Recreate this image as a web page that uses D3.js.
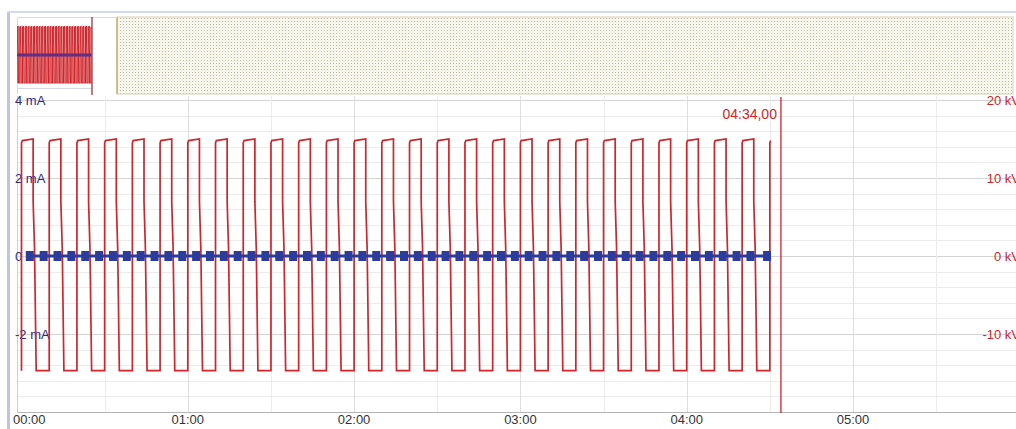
<!DOCTYPE html>
<html>
<head>
<meta charset="utf-8">
<script src="https://cdn.jsdelivr.net/npm/d3@7"></script>
<style>
  body { margin: 0; background: #fff; }
  svg { display: block; font-family: 'Liberation Sans', Arial, sans-serif; }
</style>
</head>
<body>
<div id="chart"></div>
<script>
// time axis (seconds) and labels
const xTicks = [0, 60, 120, 180, 240, 300]
const xTickLabels = ['00:00', '01:00', '02:00', '03:00', '04:00', '05:00']
// left axis (current) and right axis (voltage)
const mATicks = [4, 2, 0, -2]
const mALabels = ['4 mA', '2 mA', '0', '-2 mA']
const kVTicks = [20, 10, 0, -10]
const kVLabels = ['20 kV', '10 kV', '0 kV', '-10 kV']

// voltage: rising edge of every cycle (s), and the shape of one cycle
const riseTimes = [0, 10, 20, 30, 40, 50, 60, 70, 80, 90, 100, 110, 120, 130,
  140, 150, 160, 170, 180, 190, 200, 210, 220, 230, 240, 250, 260, 270]
const cycleOffsets = [0, 0, 0.3, 4.2, 4.2, 4.7, 5.3]
const cycleVoltage = [-14.7, 14.5, 14.8, 15.0, 7.0, 1.0, -14.7]
const endTime = 274

// current samples (s, mA)
const currentTimes = [3, 8, 13, 18, 23, 28, 33, 38, 43, 48, 53, 58, 63, 68, 73, 78,
  83, 88, 93, 98, 103, 108, 113, 118, 123, 128, 133, 138, 143, 148, 153, 158, 163,
  168, 173, 178, 183, 188, 193, 198, 203, 208, 213, 218, 223, 228, 233, 238, 243,
  248, 253, 258, 263, 269]
const currentValues = [0, 0, 0, 0, 0, 0, 0, 0, 0, 0, 0, 0, 0, 0, 0, 0, 0, 0, 0, 0,
  0, 0, 0, 0, 0, 0, 0, 0, 0, 0, 0, 0, 0, 0, 0, 0, 0, 0, 0, 0, 0, 0, 0, 0, 0, 0, 0,
  0, 0, 0, 0, 0, 0, 0]

const markerTime = 274
const markerLabel = '04:34,00'

const createChart = () => {
    const width = 1016
    const height = 429
    const red = '#cf252b'
    const blue = '#2c3c9a'

    const wave = riseTimes.flatMap((r) => cycleOffsets.map((o, i) => ({ t: r + o, v: cycleVoltage[i] })))
        .filter((d) => d.t <= endTime)
    const current = currentTimes.map((t, i) => ({ t: t, v: currentValues[i] }))

    const svg = d3.select('#chart')
        .append('svg')
        .attr('width', width)
        .attr('height', height)

    const defs = svg.append('defs')
    const pat = defs.append('pattern')
        .attr('id', 'stipple')
        .attr('width', 3)
        .attr('height', 3)
        .attr('patternUnits', 'userSpaceOnUse')
    pat.append('rect').attr('width', 3).attr('height', 3).attr('fill', '#f7f6ec')
    pat.append('rect').attr('width', 1).attr('height', 1).attr('fill', '#bdbba4')
    defs.append('clipPath').attr('id', 'plotClip')
        .append('rect').attr('x', 17).attr('y', 96).attr('width', 1000).attr('height', 317)
    defs.append('clipPath').attr('id', 'ovClip')
        .append('rect').attr('x', 17).attr('y', 17).attr('width', 76).attr('height', 77)

    // outer frame
    svg.append('rect').attr('x', 7).attr('y', 12).attr('width', 3).attr('height', height - 12).attr('fill', '#bcc5e6')
    svg.append('rect').attr('x', 7).attr('y', 11).attr('width', width).attr('height', 2).attr('fill', '#d2d8f0')

    // ---- overview strip
    const xOv = d3.scaleLinear().domain([0, endTime]).range([17, 92])
    const yOv = d3.scaleLinear().domain([-20, 20]).range([93, 17])

    svg.append('rect').attr('x', 117).attr('y', 17).attr('width', 896).attr('height', 77)
        .attr('fill', 'url(#stipple)').attr('stroke', '#d6d4b4').attr('stroke-width', 1)
    svg.append('line').attr('x1', 117).attr('x2', 117).attr('y1', 17).attr('y2', 94)
        .attr('stroke', '#b3ae5c').attr('stroke-width', 1.2)
    svg.append('line').attr('x1', 17).attr('x2', 117).attr('y1', 17.5).attr('y2', 17.5)
        .attr('stroke', '#dcdcdc')
    svg.append('line').attr('x1', 17.5).attr('x2', 17.5).attr('y1', 17).attr('y2', 94)
        .attr('stroke', '#dcdcdc')
    svg.append('line').attr('x1', 17).attr('x2', 92).attr('y1', 88.5).attr('y2', 88.5)
        .attr('stroke', '#d8d8e4')

    const ov = svg.append('g').attr('clip-path', 'url(#ovClip)')
    ov.append('path')
        .datum(wave)
        .attr('d', d3.line().x((d) => xOv(d.t)).y((d) => yOv(d.v)))
        .attr('fill', 'none')
        .attr('stroke', red)
        .attr('stroke-width', 1.1)
    ov.append('line')
        .attr('x1', xOv(currentTimes[0])).attr('x2', xOv(currentTimes[currentTimes.length - 1]))
        .attr('y1', yOv(0)).attr('y2', yOv(0))
        .attr('stroke', '#6a3a8c').attr('stroke-width', 1)
    ov.selectAll('rect.ovdot')
        .data(current)
        .enter()
        .append('rect')
        .attr('class', 'ovdot')
        .attr('x', (d) => xOv(d.t) - 0.7)
        .attr('y', (d) => yOv(d.v) - 1.5)
        .attr('width', 1.4)
        .attr('height', 3)
        .attr('fill', '#5a2c8a')
    svg.append('line').attr('x1', 92).attr('x2', 92).attr('y1', 17).attr('y2', 95)
        .attr('stroke', '#9a2426').attr('stroke-width', 1.2)

    // ---- main plot
    const x = d3.scaleLinear().domain([0, 300]).range([21.5, 853])
    const yKV = d3.scaleLinear().domain([-20, 20]).range([412, 100])
    const ymA = d3.scaleLinear().domain([-4, 4]).range([412, 100])

    const grid = svg.append('g').attr('clip-path', 'url(#plotClip)')
    grid.selectAll('line.hg')
        .data(d3.range(-18, 22, 2))
        .enter()
        .append('line')
        .attr('class', 'hg')
        .attr('x1', 17).attr('x2', width)
        .attr('y1', (d) => Math.round(yKV(d)) + 0.5).attr('y2', (d) => Math.round(yKV(d)) + 0.5)
        .attr('stroke', (d) => d % 10 === 0 ? '#d4d4d4' : '#ececec')
    grid.selectAll('line.vg')
        .data(d3.range(30, 400, 30))
        .enter()
        .append('line')
        .attr('class', 'vg')
        .attr('x1', (d) => Math.round(x(d)) + 0.5).attr('x2', (d) => Math.round(x(d)) + 0.5)
        .attr('y1', 96).attr('y2', 412)
        .attr('stroke', (d) => d % 60 === 0 ? '#dedede' : '#ececec')

    // axes frame
    svg.append('line').attr('x1', 17).attr('x2', width).attr('y1', 412.5).attr('y2', 412.5)
        .attr('stroke', '#b4b4b4')
    svg.append('line').attr('x1', 17.5).attr('x2', 17.5).attr('y1', 96).attr('y2', 413)
        .attr('stroke', '#cfcfcf')

    // left labels
    svg.append('g').selectAll('text')
        .data(mATicks)
        .enter()
        .append('text')
        .attr('x', 15)
        .attr('y', (d) => ymA(d) + 2)
        .attr('dominant-baseline', 'middle')
        .attr('font-size', 13)
        .attr('fill', '#2a2a86')
        .text((d, i) => mALabels[i])

    // right labels
    svg.append('g').selectAll('text')
        .data(kVTicks)
        .enter()
        .append('text')
        .attr('x', 1020)
        .attr('y', (d) => yKV(d) + 2)
        .attr('text-anchor', 'end')
        .attr('dominant-baseline', 'middle')
        .attr('font-size', 13)
        .attr('fill', red)
        .text((d, i) => kVLabels[i])

    // bottom labels
    svg.append('g').selectAll('text')
        .data(xTicks)
        .enter()
        .append('text')
        .attr('x', (d) => d === 0 ? 13 : x(d))
        .attr('y', 421)
        .attr('text-anchor', (d) => d === 0 ? 'start' : 'middle')
        .attr('dominant-baseline', 'middle')
        .attr('font-size', 13)
        .attr('fill', '#333')
        .text((d, i) => xTickLabels[i])

    const plot = svg.append('g').attr('clip-path', 'url(#plotClip)')

    // voltage
    plot.append('path')
        .datum(wave)
        .attr('d', d3.line().x((d) => x(d.t)).y((d) => yKV(d.v)))
        .attr('fill', 'none')
        .attr('stroke', red)
        .attr('stroke-width', 1.7)

    // current
    plot.append('path')
        .datum(current)
        .attr('d', d3.line().x((d) => x(d.t)).y((d) => ymA(d.v)))
        .attr('fill', 'none')
        .attr('stroke', blue)
        .attr('stroke-width', 3)
    plot.selectAll('rect.sq')
        .data(current)
        .enter()
        .append('rect')
        .attr('class', 'sq')
        .attr('x', (d) => x(d.t) - 4)
        .attr('y', (d) => ymA(d.v) - 5)
        .attr('width', 8)
        .attr('height', 10)
        .attr('fill', blue)

    // marker
    svg.append('line')
        .attr('x1', x(markerTime)).attr('x2', x(markerTime))
        .attr('y1', 97).attr('y2', 413)
        .attr('stroke', red).attr('stroke-width', 1.3)
    svg.append('text')
        .attr('x', x(markerTime) - 4)
        .attr('y', 115)
        .attr('text-anchor', 'end')
        .attr('dominant-baseline', 'middle')
        .attr('font-size', 14)
        .attr('fill', red)
        .text(markerLabel)
}

createChart()
</script>
</body>
</html>
